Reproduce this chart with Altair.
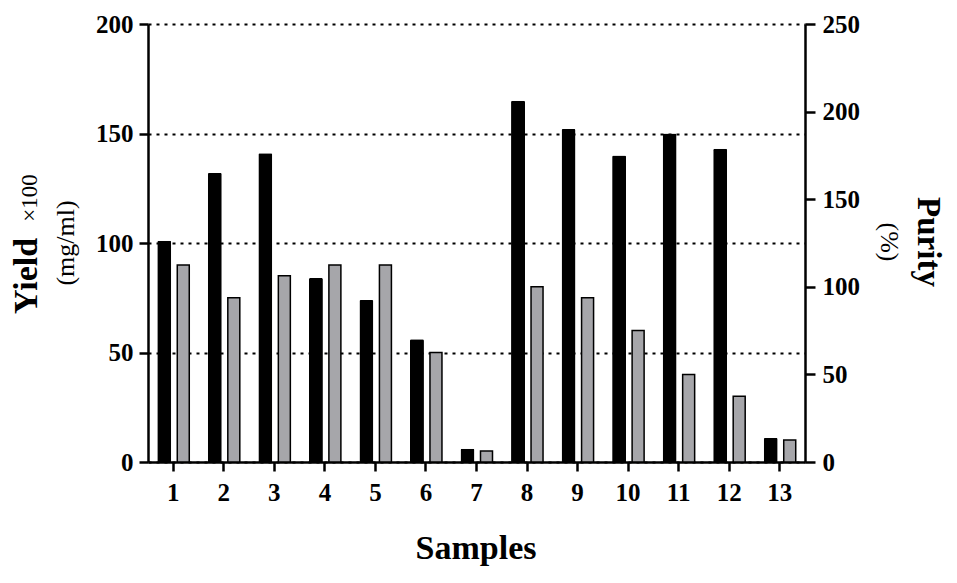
import altair as alt
import pandas as pd

samples = [str(i) for i in range(1, 14)]
yield_vals = [101, 132, 141, 84, 74, 56, 6, 165, 152, 140, 150, 143, 11]
purity_vals = [90, 75, 85, 90, 90, 50, 5, 80, 75, 60, 40, 30, 10]
left_ticks = [0, 50, 100, 150, 200]
right_ticks = [0, 50, 100, 150, 200, 250]

df = pd.DataFrame({"sample": samples, "yield": yield_vals, "purity": purity_vals})

FONT = "Liberation Serif"

x_enc = alt.X(
    "sample:O",
    sort=samples,
    scale=alt.Scale(paddingInner=0, paddingOuter=0),
    axis=alt.Axis(title=None, labelAngle=0, tickSize=9, labelPadding=9),
)

left_axis = alt.Axis(
    title=None,
    values=left_ticks,
    grid=True,
    gridDash=[3, 5],
    gridColor="black",
    gridWidth=2,
    tickSize=9,
    labelPadding=6,
)

black = alt.Chart(df).mark_bar(color="black", width=14, xOffset=-9, cornerRadiusTopLeft=1.5, cornerRadiusTopRight=1.5).encode(
    x=x_enc,
    y=alt.Y("yield:Q", scale=alt.Scale(domain=[0, 200], nice=False), axis=left_axis),
)

gray = alt.Chart(df).mark_bar(fill="#a6a6aa", stroke="black", strokeWidth=1.5, width=12, xOffset=10).encode(
    x=x_enc,
    y=alt.Y("purity:Q", scale=alt.Scale(domain=[0, 200], nice=False), axis=left_axis),
)

right = alt.Chart(df).mark_bar(opacity=0).encode(
    x=x_enc,
    y=alt.Y(
        "purity:Q",
        scale=alt.Scale(domain=[0, 250], nice=False),
        axis=alt.Axis(title=None, orient="right", values=right_ticks, grid=False, tickSize=10, labelPadding=7),
    ),
)


def label(text, x, y, size, weight, angle, align="center", baseline="alphabetic"):
    return alt.Chart(pd.DataFrame({"t": [text]})).mark_text(
        font=FONT, fontSize=size, fontWeight=weight, angle=angle, align=align,
        baseline=baseline, color="black",
    ).encode(text="t:N", x=alt.value(x), y=alt.value(y))


titles = [
    label("Yield", -111, 252, 34, "bold", 270),
    label("×100", -111, 174, 23, "normal", 270),
    label("(mg/ml)", -74, 219, 26, "normal", 270),
    label("Purity", 770, 218, 33, "bold", 90),
    label("(%)", 733, 218, 26, "normal", 90),
    label("Samples", 328, 535, 34, "bold", 0),
]

chart = alt.layer(alt.layer(black, gray), right, *titles).resolve_scale(y="independent").properties(
    width=657,
    height=438,
    padding={"left": 140, "top": 16, "right": 142, "bottom": 110},
    autosize=alt.AutoSizeParams(type="none"),
).configure_view(stroke=None).configure_axis(
    domainColor="black",
    domainWidth=2.5,
    tickColor="black",
    tickWidth=2.5,
    labelFont=FONT,
    labelFontWeight="bold",
    labelFontSize=25,
    labelColor="black",
)

chart.save("out.html", embed_options={"renderer": "svg", "actions": False})
